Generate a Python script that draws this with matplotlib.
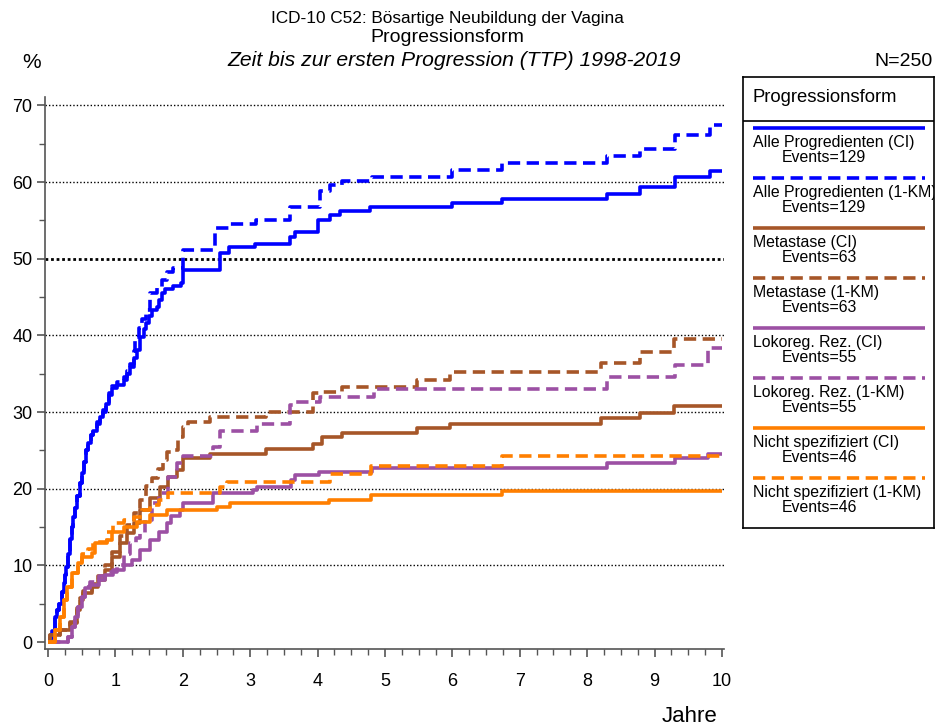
import matplotlib
matplotlib.use("Agg")
import matplotlib.pyplot as plt

plt.rcParams['font.family'] = ['Liberation Sans', 'DejaVu Sans']

# ---------------- data ----------------
t_all_ci = [0, 0.03, 0.06, 0.1, 0.13, 0.16, 0.2, 0.23, 0.25, 0.27, 0.3, 0.33, 0.35, 0.37, 0.4,
            0.43, 0.47, 0.5, 0.53, 0.57, 0.6, 0.64, 0.67, 0.72, 0.77, 0.82, 0.86, 0.9, 0.95,
            1.02, 1.12, 1.17, 1.22, 1.27, 1.32, 1.37, 1.42, 1.46, 1.5, 1.54, 1.61, 1.65, 1.69,
            1.74, 1.86, 1.98, 2.0, 2.55, 2.69, 3.07, 3.59, 3.66, 4.0, 4.18, 4.33, 4.78, 6.0,
            6.74, 8.29, 8.78, 9.3, 9.82, 10]
v_all_ci = [0, 0.5, 1.5, 3.3, 4.2, 5.0, 6.6, 7.7, 8.8, 9.8, 11.5, 13.5, 15, 16.3, 17.5,
            19, 20.7, 22, 23.5, 25, 26, 27, 27.6, 28.5, 29.3, 30, 31, 32.2, 33.1,
            33.6, 34.2, 35, 35.9, 37, 38.1, 39.8, 40.8, 41.6, 42.5, 43.3, 43.7, 44.6, 45.5,
            46.1, 46.5, 46.8, 48.5, 50.8, 51.5, 51.9, 52.9, 53.5, 55.1, 55.7, 56.2, 56.8, 57.3,
            57.8, 58.5, 59.3, 60.7, 61.4, 61.4]

t_all_km = [0, 0.03, 0.06, 0.1, 0.13, 0.16, 0.2, 0.23, 0.25, 0.27, 0.3, 0.33, 0.35, 0.37, 0.4,
            0.43, 0.47, 0.5, 0.53, 0.57, 0.6, 0.64, 0.67, 0.72, 0.77, 0.82, 0.86, 0.9, 0.95,
            1.02, 1.12, 1.17, 1.22, 1.27, 1.29, 1.35, 1.4, 1.46, 1.51, 1.61, 1.69, 1.76, 1.86,
            2.0, 2.48, 2.7, 3.09, 3.59, 4.04, 4.18, 4.36, 4.81, 6.0, 6.74, 8.29, 8.78, 9.3,
            9.82, 10]
v_all_km = [0, 0.5, 1.5, 3.3, 4.2, 5.0, 6.6, 7.7, 8.8, 9.8, 11.5, 13.5, 15, 16.3, 17.5,
            19, 20.7, 22, 23.5, 25, 26, 27, 27.8, 28.7, 29.5, 30.3, 31.3, 32.5, 33.4,
            33.9, 34.6, 35.4, 36.3, 38, 39.8, 41, 42.2, 43.3, 45.5, 46.3, 47.2, 48.3, 48.8,
            51.1, 54.0, 54.5, 55.0, 56.8, 58.9, 59.6, 60.1, 60.7, 61.6, 62.5, 63.4, 64.3, 66.2,
            67.4, 67.4]

t_met_ci = [0, 0.03, 0.18, 0.33, 0.43, 0.47, 0.52, 0.65, 0.74, 0.85, 0.95, 1.07, 1.17, 1.27,
            1.37, 1.52, 1.66, 1.78, 1.91, 2.0, 2.4, 3.24, 3.93, 4.06, 4.36, 5.47, 5.97, 8.2,
            8.78, 9.29, 10]
v_met_ci = [0, 0.9, 1.6, 2.5, 4.2, 5.5, 6.4, 7.2, 8.1, 9.4, 11.1, 12.9, 14.2, 15.5,
            17.2, 18.8, 20.2, 21.6, 22.4, 24.0, 24.6, 25.25, 25.9, 26.8, 27.3, 27.9, 28.5, 29.25,
            29.9, 30.8, 30.8]

t_met_km = [0, 0.03, 0.18, 0.33, 0.43, 0.47, 0.52, 0.65, 0.74, 0.85, 0.95, 1.07, 1.17, 1.27,
            1.37, 1.46, 1.55, 1.63, 1.71, 1.76, 1.88, 1.93, 2.0, 2.08, 2.4, 3.24, 3.93, 4.06,
            4.36, 5.47, 5.97, 8.2, 8.78, 9.29, 10]
v_met_km = [0, 0.9, 1.6, 2.6, 4.4, 5.8, 6.7, 7.6, 8.6, 10, 11.8, 13.8, 15.3, 16.8,
            18.5, 20.3, 21.4, 22.6, 23.7, 24.8, 25, 26.8, 28.1, 28.7, 29.4, 30.0, 32.5, 32.6,
            33.3, 34.25, 35.2, 36.4, 37.8, 39.5, 39.5]

t_lok_ci = [0, 0.3, 0.35, 0.4, 0.45, 0.5, 0.55, 0.62, 0.75, 0.85, 0.97, 1.12, 1.24, 1.37,
            1.51, 1.64, 1.76, 1.83, 1.96, 2.0, 2.45, 3.04, 3.1, 3.6, 3.66, 4.02, 4.8, 8.29,
            9.3, 9.8, 10]
v_lok_ci = [0, 0.7, 2.0, 3.3, 4.6, 5.9, 7.0, 7.4, 8.1, 8.7, 9.4, 10.0, 10.7, 12.0,
            13.3, 14.4, 15.5, 16.5, 17.2, 18.1, 19.4, 19.8, 20.25, 21.1, 21.8, 22.2, 22.7, 23.3,
            23.95, 24.6, 24.6]

t_lok_km = [0, 0.3, 0.35, 0.4, 0.45, 0.5, 0.55, 0.62, 0.75, 0.87, 1.02, 1.12, 1.22, 1.3,
            1.37, 1.44, 1.54, 1.64, 1.78, 1.91, 2.0, 2.45, 2.55, 3.1, 3.59, 3.66, 4.03, 4.83,
            8.29, 9.3, 9.8, 10]
v_lok_km = [0, 0.7, 2.0, 3.3, 4.6, 5.9, 7.2, 7.8, 8.6, 9.2, 10.0, 11.5, 12.9, 13.6,
            14.2, 15.9, 18.1, 19.4, 21.6, 23.3, 24.3, 25.5, 27.6, 28.4, 30.9, 31.3, 32.0, 32.95,
            34.6, 36.1, 38.3, 38.3]

t_ns_ci = [0, 0.1, 0.18, 0.23, 0.28, 0.35, 0.45, 0.5, 0.65, 0.7, 0.87, 0.95, 1.12, 1.32,
           1.51, 1.76, 2.5, 2.7, 4.17, 4.79, 6.73, 10]
v_ns_ci = [0, 1.6, 3.3, 5.5, 7.2, 9.0, 10.3, 11.1, 11.6, 12.9, 13.3, 14.4, 15.0, 15.7,
           16.6, 17.2, 17.6, 18.1, 18.6, 19.2, 19.7, 19.7]

t_ns_km = [0, 0.1, 0.18, 0.23, 0.28, 0.35, 0.45, 0.5, 0.6, 0.67, 0.87, 0.97, 1.12, 1.27,
           1.4, 1.51, 1.65, 1.78, 2.55, 2.65, 4.18, 4.79, 6.73, 10]
v_ns_km = [0, 1.6, 3.3, 5.5, 7.2, 9.0, 10.5, 11.5, 12.2, 13.1, 14.4, 15.5, 15.9, 16.3,
           17.2, 17.9, 18.5, 19.4, 20.25, 20.9, 21.9, 23.0, 24.3, 24.3]

labels = ["Alle Progredienten (CI)", "Alle Progredienten (1-KM)",
          "Metastase (CI)", "Metastase (1-KM)",
          "Lokoreg. Rez. (CI)", "Lokoreg. Rez. (1-KM)",
          "Nicht spezifiziert (CI)", "Nicht spezifiziert (1-KM)"]
events = [129, 129, 63, 63, 55, 55, 46, 46]
x_ticks = [0, 1, 2, 3, 4, 5, 6, 7, 8, 9, 10]
y_ticks = [0, 10, 20, 30, 40, 50, 60, 70]

series = [(t_all_ci, v_all_ci), (t_all_km, v_all_km),
          (t_met_ci, v_met_ci), (t_met_km, v_met_km),
          (t_lok_ci, v_lok_ci), (t_lok_km, v_lok_km),
          (t_ns_ci, v_ns_ci), (t_ns_km, v_ns_km)]
colors = ["#0000FF", "#0000FF", "#A65628", "#A65628",
          "#9C50A4", "#9C50A4", "#FF7F00", "#FF7F00"]
dash = (0, (3.4, 1.8))
styles = ["-", dash, "-", dash, "-", dash, "-", dash]
LW = 2.6

# ---------------- figure ----------------
W, H = 935, 728
fig = plt.figure(figsize=(W / 100, H / 100), dpi=100)

def fx(px):
    return px / W

def fy(py):
    return 1 - py / H

ax = fig.add_axes([fx(45), fy(649), fx(724) - fx(45), fy(97) - fy(649)])
ax.set_xlim(-0.045, 10.03)
ax.set_ylim(-0.9, 71.1)

for yv in y_ticks[1:]:
    if yv == 50:
        ax.axhline(yv, color="black", lw=2.0, ls=(0, (1, 1)), zorder=1)
    else:
        ax.axhline(yv, color="black", lw=1.0, ls=(0, (1, 1.5)), zorder=1)

for (t, v), c, s in zip(series, colors, styles):
    ax.plot(t, v, drawstyle="steps-post", color=c, ls=s, lw=LW, zorder=3,
            solid_capstyle="butt", dash_capstyle="butt")

for side in ["top", "right"]:
    ax.spines[side].set_visible(False)
for side in ["left", "bottom"]:
    ax.spines[side].set_color("#555555")
    ax.spines[side].set_linewidth(1.2)

ax.set_xticks(x_ticks)
ax.set_xticks([i * 0.25 for i in range(41)], minor=True)
ax.set_yticks(y_ticks)
ax.set_yticks([i * 5 for i in range(15)], minor=True)
ax.tick_params(axis="both", which="major", direction="out", length=6, width=1.2,
               color="#555555", labelsize=13)
ax.tick_params(axis="both", which="minor", direction="out", length=4, width=1.0,
               color="#555555")
ax.tick_params(axis="x", pad=11)
ax.tick_params(axis="y", pad=3)

# ---------------- titles ----------------
fig.text(fx(447), fy(18), "ICD-10 C52: Bösartige Neubildung der Vagina",
         ha="center", va="center", fontsize=12.4)
fig.text(fx(447), fy(38), "Progressionsform", ha="center", va="center", fontsize=14)
fig.text(fx(454), fy(61), "Zeit bis zur ersten Progression (TTP) 1998-2019",
         ha="center", va="center", fontsize=15.2, style="italic")
fig.text(fx(32), fy(63), "%", ha="center", va="center", fontsize=15)
fig.text(fx(933), fy(62), "N=250", ha="right", va="center", fontsize=14)
fig.text(fx(690), fy(716), "Jahre", ha="center", va="center", fontsize=16)

# ---------------- legend ----------------
L, T, R, B = 743, 77, 934, 528
lax = fig.add_axes([fx(L), fy(B), fx(R) - fx(L), fy(T) - fy(B)])
lax.set_xlim(0, R - L)
lax.set_ylim(B - T, 0)
lax.set_xticks([])
lax.set_yticks([])
for sp in lax.spines.values():
    sp.set_color("black")
    sp.set_linewidth(1.2)
lax.axhline(121 - T, color="black", lw=1.2)
lax.text(753 - L, 98 - T, "Progressionsform", ha="left", va="center", fontsize=13.3)
for i, (lab, ev, c, s) in enumerate(zip(labels, events, colors, styles)):
    yl = 128.3 + 50 * i - T
    lax.plot([753 - L, 925 - L], [yl, yl], color=c, ls=s, lw=LW,
             solid_capstyle="butt", dash_capstyle="butt")
    lax.text(753 - L, yl + 14, lab, ha="left", va="center", fontsize=11.4, clip_on=True)
    lax.text(782 - L, yl + 29.5, f"Events={ev}", ha="left", va="center", fontsize=11.4,
             clip_on=True)

fig.savefig("out.png", dpi=100)
